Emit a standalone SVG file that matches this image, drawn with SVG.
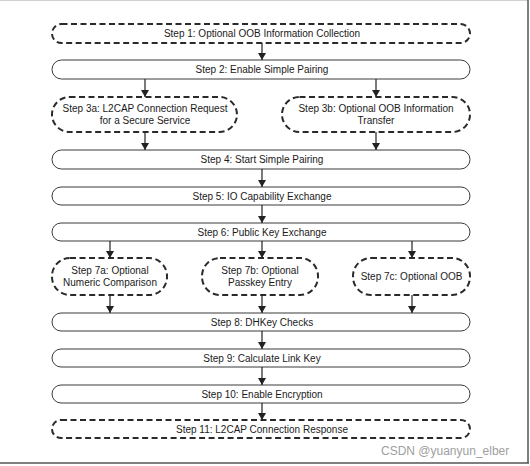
<svg xmlns="http://www.w3.org/2000/svg" width="530" height="466" viewBox="0 0 530 466">
<style>
.solid{fill:#fff;stroke:#3a3a3a;stroke-width:1}
.dash{fill:#fff;stroke:#2a2a2a;stroke-width:2;stroke-dasharray:6 3.5}
text{font-family:"Liberation Sans",Arial,sans-serif;font-size:10px;fill:#1a1a1a;text-anchor:middle}
.wm{font-size:12px;fill:#a0a0a0;text-anchor:start}
.conn line{stroke:#222;stroke-width:1.2}
</style>
<defs>
<marker id="ah" markerWidth="8" markerHeight="8" refX="7" refY="4" orient="auto" markerUnits="userSpaceOnUse">
<path d="M0,0 L7,4 L0,8 Z" fill="#222"/>
</marker>
</defs>
<rect x="0" y="0" width="530" height="466" fill="#fff"/>
<line x1="0" y1="0.5" x2="528" y2="0.5" stroke="#d0d0d0"/>
<line x1="528" y1="0" x2="528" y2="463" stroke="#555" stroke-width="1.5"/>
<line x1="0" y1="463" x2="529" y2="463" stroke="#555" stroke-width="1.5"/>

<g id="step1"><rect class="dash" x="52" y="24" width="418" height="19" rx="9.5"/><text x="262" y="37">Step 1: Optional OOB Information Collection</text></g>
<g id="step2"><rect class="solid" x="52" y="60" width="418" height="19" rx="9.5"/><text x="262" y="73">Step 2: Enable Simple Pairing</text></g>
<g id="step3a"><rect class="dash" x="52" y="97" width="185" height="35" rx="17.5"/><text x="145" y="112">Step 3a: L2CAP Connection Request</text><text x="145" y="123.5">for a Secure Service</text></g>
<g id="step3b"><rect class="dash" x="282" y="97" width="188" height="35" rx="17.5"/><text x="376" y="112">Step 3b: Optional OOB Information</text><text x="376" y="123.5">Transfer</text></g>
<g id="step4"><rect class="solid" x="52" y="150" width="418" height="19" rx="9.5"/><text x="262" y="163">Step 4: Start Simple Pairing</text></g>
<g id="step5"><rect class="solid" x="52" y="187" width="418" height="18" rx="9"/><text x="262" y="199.5">Step 5: IO Capability Exchange</text></g>
<g id="step6"><rect class="solid" x="52" y="223" width="418" height="18" rx="9"/><text x="262" y="235.5">Step 6: Public Key Exchange</text></g>
<g id="step7a"><rect class="dash" x="52" y="258" width="115" height="37" rx="18"/><text x="110" y="274">Step 7a: Optional</text><text x="110" y="286">Numeric Comparison</text></g>
<g id="step7b"><rect class="dash" x="202" y="258" width="116" height="37" rx="18"/><text x="260" y="274">Step 7b: Optional</text><text x="260" y="286">Passkey Entry</text></g>
<g id="step7c"><rect class="dash" x="353" y="258" width="117" height="37" rx="18"/><text x="411.5" y="280">Step 7c: Optional OOB</text></g>
<g id="step8"><rect class="solid" x="52" y="313" width="418" height="18" rx="9"/><text x="262" y="325.5">Step 8: DHKey Checks</text></g>
<g id="step9"><rect class="solid" x="52" y="349" width="418" height="18" rx="9"/><text x="262" y="361.5">Step 9: Calculate Link Key</text></g>
<g id="step10"><rect class="solid" x="52" y="385" width="418" height="18" rx="9"/><text x="262" y="397.5">Step 10: Enable Encryption</text></g>
<g id="step11"><rect class="dash" x="52" y="420" width="418" height="18" rx="9"/><text x="262" y="432.5">Step 11: L2CAP Connection Response</text></g>

<g class="conn">
<line x1="262" y1="43" x2="262" y2="60" marker-end="url(#ah)"/>
<line x1="145" y1="79" x2="145" y2="97" marker-end="url(#ah)"/>
<line x1="376" y1="79" x2="376" y2="97" marker-end="url(#ah)"/>
<line x1="145" y1="132" x2="145" y2="150" marker-end="url(#ah)"/>
<line x1="376" y1="132" x2="376" y2="150" marker-end="url(#ah)"/>
<line x1="262" y1="169" x2="262" y2="187" marker-end="url(#ah)"/>
<line x1="262" y1="205" x2="262" y2="223" marker-end="url(#ah)"/>
<line x1="110" y1="241" x2="110" y2="258" marker-end="url(#ah)"/>
<line x1="262" y1="241" x2="262" y2="258" marker-end="url(#ah)"/>
<line x1="412" y1="241" x2="412" y2="258" marker-end="url(#ah)"/>
<line x1="110" y1="295" x2="110" y2="313" marker-end="url(#ah)"/>
<line x1="262" y1="295" x2="262" y2="313" marker-end="url(#ah)"/>
<line x1="412" y1="295" x2="412" y2="313" marker-end="url(#ah)"/>
<line x1="262" y1="331" x2="262" y2="349" marker-end="url(#ah)"/>
<line x1="262" y1="367" x2="262" y2="385" marker-end="url(#ah)"/>
<line x1="262" y1="403" x2="262" y2="420" marker-end="url(#ah)"/>
</g>
<text class="wm" x="381" y="455">CSDN @yuanyun_elber</text>
</svg>
